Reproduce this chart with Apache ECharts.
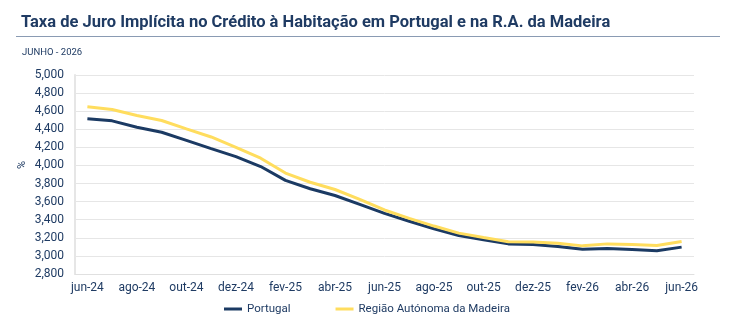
<!DOCTYPE html>
<html>
<head>
<meta charset="utf-8">
<script src="https://cdn.jsdelivr.net/npm/echarts@6/dist/echarts.min.js"></script>
<style>
  html, body { margin: 0; padding: 0; background: #fff; }
  #chart { width: 735px; height: 326px; }
</style>
</head>
<body>
<div id="chart"></div>
<script>
// meses (jun-24 .. jun-26)
const meses = ['jun-24','jul-24','ago-24','set-24','out-24','nov-24','dez-24','jan-25','fev-25','mar-25','abr-25','mai-25',
               'jun-25','jul-25','ago-25','set-25','out-25','nov-25','dez-25','jan-26','fev-26','mar-26','abr-26','mai-26','jun-26'];
// taxa de juro implícita (%)
const portugal = [4.516, 4.493, 4.422, 4.367, 4.278, 4.186, 4.097, 3.988, 3.835, 3.742, 3.668, 3.570,
                  3.470, 3.383, 3.300, 3.226, 3.178, 3.133, 3.125, 3.103, 3.074, 3.081, 3.070, 3.056, 3.097];
const madeira = [4.649, 4.619, 4.552, 4.497, 4.404, 4.315, 4.200, 4.080, 3.916, 3.814, 3.734, 3.625,
                 3.508, 3.415, 3.330, 3.252, 3.203, 3.156, 3.155, 3.141, 3.111, 3.133, 3.126, 3.115, 3.159];

const azul = '#1b3a63';
const amarelo = '#ffdd5e';
const txt = '#1f3b63';

const chart = echarts.init(document.getElementById('chart'));

const option = {
  animation: false,
  textStyle: { fontFamily: 'Roboto, Arial, sans-serif' },
  title: [
    {
      text: 'Taxa de Juro Implícita no Crédito à Habitação em Portugal e na R.A. da Madeira',
      left: 16, top: 9,
      textStyle: { fontSize: 16.5, fontWeight: 'bold', color: txt, fontFamily: 'Roboto, Arial, sans-serif' }
    },
    {
      text: 'JUNHO - 2026',
      left: 17, top: 43,
      textStyle: { fontSize: 9.5, fontWeight: 'normal', color: txt }
    }
  ],
  graphic: [
    { type: 'line', shape: { x1: 16, y1: 36.5, x2: 720, y2: 36.5 }, style: { stroke: '#8a9bb3', lineWidth: 1 } },
    // nome do eixo y
    {
      type: 'text', x: 22, y: 165, rotation: Math.PI / 2,
      style: { text: '%', fill: txt, font: '11px Roboto, Arial, sans-serif', align: 'center', verticalAlign: 'middle' }
    }
  ],
  grid: { left: 75, right: 41, top: 75, bottom: 52 },
  legend: {
    bottom: 6,
    left: 219,
    itemGap: 45,
    itemWidth: 18,
    itemHeight: 3,
    icon: 'rect',
    textStyle: { fontSize: 11.5, color: txt },
    data: ['Portugal', 'Região Autónoma da Madeira']
  },
  xAxis: {
    type: 'category',
    data: meses,
    boundaryGap: true,
    axisLine: { lineStyle: { color: '#e0e0e0' } },
    axisTick: { interval: 1, length: 4, lineStyle: { color: '#d8d8d8' } },
    axisLabel: { interval: 1, fontSize: 12, color: txt, margin: 8 }
  },
  yAxis: {
    type: 'value',
    min: 2.8, max: 5, interval: 0.2,
    axisLine: { show: true, lineStyle: { color: '#e6e6e6', width: 2 } },
    axisTick: { show: false },
    axisLabel: {
      fontSize: 12, color: txt, margin: 11,
      formatter: v => v.toFixed(3).replace('.', ',')
    },
    splitLine: { lineStyle: { color: '#e6e6e6' } }
  },
  series: [
    {
      name: 'Portugal', type: 'line', data: portugal,
      symbol: 'none', lineStyle: { color: azul, width: 3 }, itemStyle: { color: azul }
    },
    {
      name: 'Região Autónoma da Madeira', type: 'line', data: madeira,
      symbol: 'none', lineStyle: { color: amarelo, width: 3 }, itemStyle: { color: amarelo }
    }
  ]
};

chart.setOption(option);
</script>
</body>
</html>
